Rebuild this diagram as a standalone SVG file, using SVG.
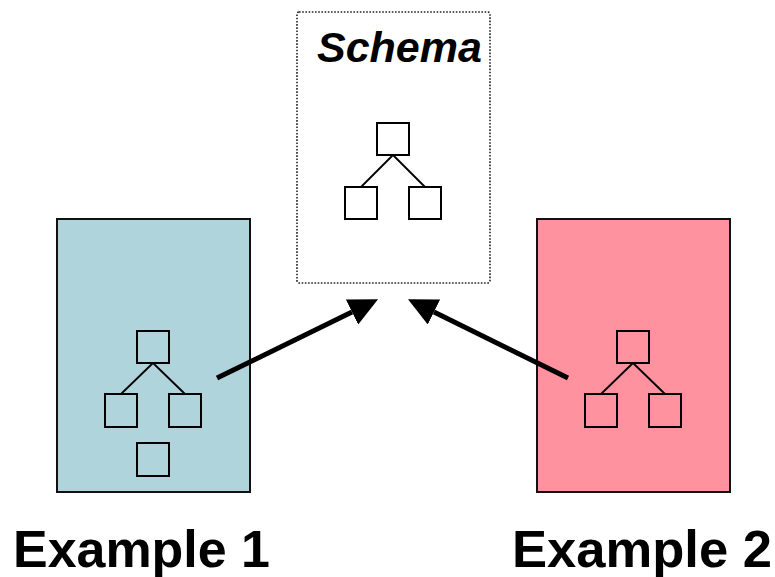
<svg xmlns="http://www.w3.org/2000/svg" width="775" height="577" viewBox="0 0 775 577">
  <style>
    .panel { stroke: #111; stroke-width: 2; }
    .sq { fill: none; stroke: #000; stroke-width: 2; }
    .edge { stroke: #000; stroke-width: 1.8; fill: none; }
    .conn { stroke: #000; stroke-width: 5; fill: none; }
    .label { font-family: "Liberation Sans", Arial, sans-serif; font-weight: bold; fill: #000; }
  </style>
  <defs>
    <marker id="head" viewBox="0 0 29 28" markerWidth="29" markerHeight="28" refX="0" refY="14" markerUnits="userSpaceOnUse" orient="auto">
      <path d="M0,0 L29,14 L0,28 z" fill="#000"/>
    </marker>
  </defs>
  <rect width="775" height="577" fill="#fff"/>

  <!-- schema panel -->
  <g id="schema">
    <rect x="297" y="12" width="193" height="271" rx="2" fill="#fff" stroke="#222" stroke-width="1.6" stroke-dasharray="1.6 1.6"/>
    <text class="label" x="317" y="62" font-size="43" font-style="italic">Schema</text>
    <rect class="sq" x="377" y="123" width="32" height="32"/>
    <rect class="sq" x="345" y="187" width="32" height="32"/>
    <rect class="sq" x="409" y="187" width="32" height="32"/>
    <path class="edge" d="M393,155 L361,187 M393,155 L425,187"/>
  </g>

  <!-- example 1 panel -->
  <g id="example1">
    <rect class="panel" x="57" y="219" width="193" height="273" fill="#B0D4DB"/>
    <rect class="sq" x="137" y="331" width="32" height="32"/>
    <rect class="sq" x="105" y="394" width="32" height="33"/>
    <rect class="sq" x="169" y="394" width="32" height="33"/>
    <rect class="sq" x="137" y="443" width="32" height="33"/>
    <path class="edge" d="M153,363 L121,394 M153,363 L185,394"/>
    <text class="label" x="13" y="567" font-size="52" textLength="257" lengthAdjust="spacingAndGlyphs">Example 1</text>
  </g>

  <!-- example 2 panel -->
  <g id="example2">
    <rect class="panel" x="537" y="219" width="193" height="273" fill="#FF929E"/>
    <rect class="sq" x="617" y="331" width="32" height="32"/>
    <rect class="sq" x="585" y="394" width="32" height="33"/>
    <rect class="sq" x="649" y="394" width="32" height="33"/>
    <path class="edge" d="M633,363 L601,394 M633,363 L665,394"/>
    <text class="label" x="512" y="567" font-size="52" textLength="260" lengthAdjust="spacingAndGlyphs">Example 2</text>
  </g>

  <!-- connectors -->
  <g id="connectors">
    <line class="conn" x1="217" y1="378" x2="352" y2="312" marker-end="url(#head)"/>
    <line class="conn" x1="568" y1="378" x2="434" y2="312" marker-end="url(#head)"/>
  </g>
</svg>
